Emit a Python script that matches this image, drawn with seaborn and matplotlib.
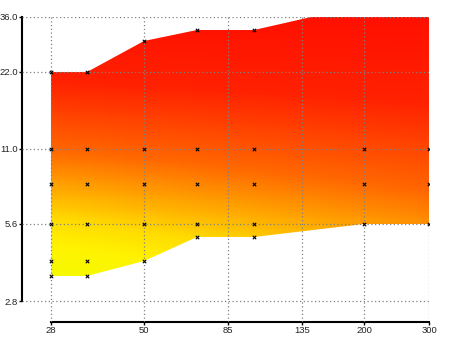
import numpy as np
import pandas as pd
import matplotlib
matplotlib.use("Agg")
import matplotlib.pyplot as plt
from matplotlib.colors import LinearSegmentedColormap
from matplotlib.ticker import FixedLocator, FixedFormatter, NullLocator
import seaborn as sns

# Aperture range of a 28-300 mm zoom lens across its focal lengths
focal = [28, 35, 50, 70, 100, 200, 300]
fstop_widest = [3.5, 3.5, 4.0, 5.0, 5.0, 5.6, 5.6]
fstop_smallest = [22, 22, 29, 32, 32, 40, 40]

# Apertures sampled at each focal length
sample_focal = [28, 28, 28, 28, 28, 28,
                35, 35, 35, 35, 35, 35,
                50, 50, 50, 50, 50,
                70, 70, 70, 70, 70,
                100, 100, 100, 100, 100,
                200, 200, 200, 200,
                300, 300, 300, 300]
sample_fstop = [22, 11, 8, 5.6, 4, 3.5,
                22, 11, 8, 5.6, 4, 3.5,
                29, 11, 8, 5.6, 4,
                32, 11, 8, 5.6, 5,
                32, 11, 8, 5.6, 5,
                40, 11, 8, 5.6,
                40, 11, 8, 5.6]

x_ticks = [28, 50, 85, 135, 200, 300]
x_labels = ["28", "50", "85", "135", "200", "300"]
y_ticks = [2.8, 5.6, 11.0, 22.0, 36.0]
y_labels = ["2.8", "5.6", "11.0", "22.0", "36.0"]

sns.set_style("white")
plt.rcParams["font.family"] = ["Liberation Sans", "DejaVu Sans"]

fig = plt.figure(figsize=(4.5, 3.37), dpi=100)
ax = fig.add_axes([22 / 450, 1 - 322 / 337, (429 - 22) / 450, (322 - 17) / 337])
ax.set_xscale("log")
ax.set_yscale("log")
ax.set_xlim(23.3, 300)
ax.set_ylim(2.32, 36)

# Outline of the usable aperture band (invisible, used as a clip shape)
band = ax.fill_between(focal, fstop_widest, fstop_smallest,
                       facecolor="none", edgecolor="none")

# Yellow-to-red shading: stops down the aperture and out along focal length
gx = np.exp(np.linspace(np.log(23), np.log(300), 300))
gy = np.exp(np.linspace(np.log(2.3), np.log(40), 300))
GX, GY = np.meshgrid(gx, gy)
u = np.clip(np.log(GY / 3.5) / np.log(36 / 3.5), 0, 1)
v = np.clip(np.log(GX / 28) / np.log(300 / 28), 0, 1)
t = u + 0.24 * v * (1 - u)
cmap = LinearSegmentedColormap.from_list(
    "aperture",
    [(0.00, (0.96, 0.98, 0.0)),
     (0.12, (1.00, 0.95, 0.0)),
     (0.22, (1.00, 0.86, 0.0)),
     (0.36, (1.00, 0.62, 0.0)),
     (0.49, (1.00, 0.40, 0.0)),
     (0.75, (1.00, 0.13, 0.0)),
     (1.00, (1.00, 0.06, 0.0))])
mesh = ax.pcolormesh(GX, GY, t, cmap=cmap, vmin=0, vmax=1,
                     shading="auto", rasterized=True, zorder=1)
mesh.set_clip_path(band.get_paths()[0], band.get_transform())

# Dotted grid drawn over the shading
ax.grid(True, which="major", color="#808080", linestyle=(0, (1, 2)),
        linewidth=0.9, zorder=2)
ax.set_axisbelow(False)

samples = pd.DataFrame({"focal": sample_focal, "fstop": sample_fstop})
sns.scatterplot(data=samples, x="focal", y="fstop", marker="x", color="black",
                s=6, linewidth=0.8, ax=ax, zorder=3, legend=False)

ax.xaxis.set_major_locator(FixedLocator(x_ticks))
ax.xaxis.set_major_formatter(FixedFormatter(x_labels))
ax.xaxis.set_minor_locator(NullLocator())
ax.yaxis.set_major_locator(FixedLocator(y_ticks))
ax.yaxis.set_major_formatter(FixedFormatter(y_labels))
ax.yaxis.set_minor_locator(NullLocator())
ax.set_xlabel("")
ax.set_ylabel("")
ax.tick_params(axis="both", which="major", length=2, width=1, color="black",
               labelsize=6.8, labelcolor="#222222", pad=1, direction="out",
               bottom=True, left=True)

sns.despine(ax=ax, trim=True)
for side in ("left", "bottom"):
    ax.spines[side].set_color("black")
    ax.spines[side].set_linewidth(1.5)

fig.savefig("out.png", dpi=100)
